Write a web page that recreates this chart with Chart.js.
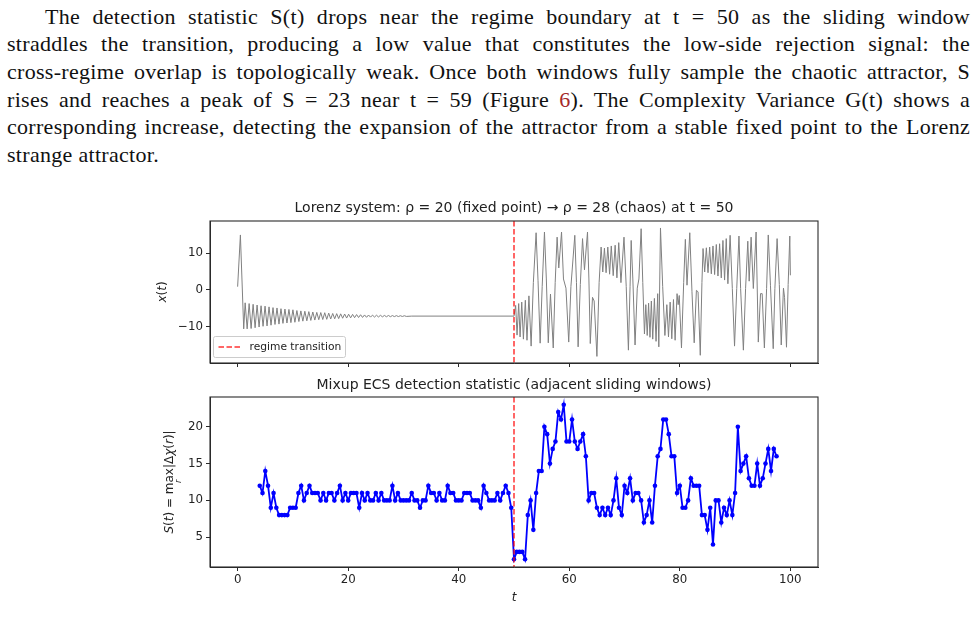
<!DOCTYPE html>
<html>
<head>
<meta charset="utf-8">
<script src="https://cdn.jsdelivr.net/npm/chart.js@4.4.1/dist/chart.umd.min.js"></script>
<style>
  body { margin: 0; background: #fff; width: 978px; height: 636px; overflow: hidden; position: relative; }
  .para { position: absolute; left: 7px; top: 2.5px; width: 963px; font-family: 'Liberation Serif', serif; font-size: 22px; letter-spacing: 0.3px; line-height: 27.7px; color: #111; }
  .para div { text-align: justify; text-align-last: justify; }
  .para .first { padding-left: 38px; }
  .para .last { text-align-last: left; }
  .ref { color: #a52a2a; }
  .plot { position: absolute; left: 140px; }
</style>
</head>
<body>
<div class="para">
  <div class="first">The detection statistic S(t) drops near the regime boundary at t = 50 as the sliding window</div>
  <div>straddles the transition, producing a low value that constitutes the low-side rejection signal: the</div>
  <div>cross-regime overlap is topologically weak. Once both windows fully sample the chaotic attractor, S</div>
  <div>rises and reaches a peak of S = 23 near t = 59 (Figure <span class="ref">6</span>). The Complexity Variance G(t) shows a</div>
  <div>corresponding increase, detecting the expansion of the attractor from a stable fixed point to the Lorenz</div>
  <div class="last">strange attractor.</div>
</div>
<canvas id="top" class="plot" width="748" height="180" style="top:195px"></canvas>
<canvas id="bottom" class="plot" width="748" height="240" style="top:372px"></canvas>
<script>
// ---- data ----
const transitionT = 50;
const xTicks = [0, 20, 40, 60, 80, 100];
const topYTicks = [-10, 0, 10];
const bottomYTicks = [5, 10, 15, 20];

// detection statistic, one value every half time unit from t = 4
const statStart = 4;
const statStep = 0.5;
const statValues = [
  12, 11, 14, 12, 9, 11, 9, 8, 8, 8, 8, 9, 9, 9, 11, 12, 10, 11, 12, 11,
  11, 11, 10, 11, 10, 11, 11, 10, 11, 12, 10, 11, 10, 11, 11, 11, 9, 11, 10, 11,
  10, 10, 11, 10, 11, 10, 10, 10, 12, 10, 11, 10, 10, 10, 10, 11, 10, 10, 9, 10,
  10, 12, 11, 11, 10, 11, 10, 10, 12, 11, 11, 10, 10, 10, 11, 11, 11, 10, 10, 10,
  9, 12, 11, 10, 10, 10, 11, 10, 11, 12, 11, 9,
  2, 3, 3, 3, 2,
  8, 10, 6, 11, 14, 14, 20, 19, 15, 17, 18, 22, 21, 23, 18, 18, 21, 18, 17, 18,
  19, 16, 10, 11, 11, 9, 8, 9, 8, 9, 8, 10, 13, 9, 8, 12, 11, 13, 10, 11,
  11, 10, 7,
  8, 10, 7, 12, 16, 17, 21, 21, 19, 16, 16, 11, 12, 9, 9, 10, 13, 12, 12, 12,
  8, 8, 6, 9, 4, 10, 10, 7, 9, 8, 10, 8, 11, 20, 14, 15, 16, 13, 12, 12,
  15, 12, 13, 15, 17, 14, 17, 16
];

// x(t) of the Lorenz run, turning points: [t, x]
const lorenzSettle = [
  [0, 0.9], [0.5, 15.0], [1.1, -10.6],
  [1.36, -3.5], [1.72, -10.6], [2.08, -3.7], [2.44, -10.5], [2.80, -3.9], [3.16, -10.3],
  [3.52, -4.1], [3.88, -10.1], [4.24, -4.3], [4.60, -9.9], [4.96, -4.4], [5.32, -9.8],
  [5.68, -4.6], [6.04, -9.6], [6.40, -4.8], [6.76, -9.4], [7.12, -4.9], [7.48, -9.3],
  [7.84, -5.1], [8.20, -9.1], [8.56, -5.2], [8.92, -9.0], [9.28, -5.3], [9.64, -8.9],
  [10.00, -5.4], [10.36, -8.8], [10.72, -5.6], [11.08, -8.6], [11.44, -5.7], [11.80, -8.5],
  [12.16, -5.8], [12.52, -8.4], [12.88, -5.9], [13.24, -8.3], [13.60, -6.0], [13.96, -8.2],
  [14.32, -6.1], [14.68, -8.1], [15.04, -6.15], [15.40, -8.05], [15.76, -6.2], [16.12, -8.0],
  [16.48, -6.3], [16.84, -7.9], [17.20, -6.4], [17.56, -7.85], [17.92, -6.45], [18.28, -7.8],
  [18.64, -6.5], [19.00, -7.7], [19.36, -6.55], [19.72, -7.65], [20.08, -6.6], [20.44, -7.6],
  [20.80, -6.65], [21.16, -7.55], [21.52, -6.7], [21.88, -7.5], [22.24, -6.75], [22.60, -7.48],
  [22.96, -6.8], [23.32, -7.45], [23.68, -6.82], [24.04, -7.4], [24.40, -6.85], [24.76, -7.38],
  [25.12, -6.88], [25.48, -7.35], [25.84, -6.9], [26.20, -7.32], [26.56, -6.93], [26.92, -7.3],
  [27.28, -6.95], [27.64, -7.28], [28.00, -6.97], [28.36, -7.26], [28.72, -6.99], [29.08, -7.24],
  [29.44, -7.01], [29.80, -7.22], [30.16, -7.02], [30.52, -7.2], [31.5, -7.12]
];
const lorenzChaos = [
  [50.0, -7.12], [50.3, -4.2], [50.55, -12.3], [50.85, -3.7], [51.1, -12.8], [51.4, -3.3],
  [51.7, -13.4], [52.05, -2.8], [52.35, -13.7], [52.7, -1.6], [53.1, -15.3], [53.5, 2.0],
  [54.0, 15.6], [54.35, 2.5], [54.73, -14.5], [55.1, 1.0], [55.51, 15.8], [55.85, 3.0],
  [56.2, -14.4], [56.6, -1.1], [57.1, -15.8], [57.45, 2.0], [57.8, 14.4], [58.1, 6.0],
  [58.6, 15.8], [58.95, 3.0], [59.4, 0.5], [59.9, -14.2], [60.3, 1.0], [61.0, 14.9],
  [61.3, 2.0], [61.6, -15.5], [62.0, 1.5], [62.4, 14.0], [62.75, 5.5], [63.3, 15.8],
  [63.55, 3.0], [63.8, -14.6], [64.2, -2.0], [64.5, -3.0], [65.0, -18.1], [65.4, 2.0],
  [65.76, 11.7], [66.06, 4.9], [66.36, 11.4], [66.66, 4.7], [66.97, 11.7], [67.3, 4.3],
  [67.6, 12.0], [67.95, 3.9], [68.3, 12.2], [68.62, 3.3], [68.95, 12.9], [69.35, 2.0],
  [69.9, 14.4], [70.3, 1.0], [70.7, -16.4], [71.0, 1.0], [71.2, 13.5], [71.5, 3.0],
  [71.9, -15.0], [72.3, 0.5], [72.6, 3.0], [73.0, 16.7], [73.3, 2.0], [73.6, -12.0],
  [73.85, -4.0], [74.1, -12.4], [74.35, -3.6], [74.6, -12.9], [74.85, -3.0], [75.1, -13.4],
  [75.4, -2.3], [75.7, -14.0], [76.0, -1.0], [76.2, -15.5], [76.5, 16.9], [76.9, 1.0],
  [77.3, -12.4], [77.65, -4.0], [77.95, -12.8], [78.25, -3.3], [78.55, -13.3], [78.85, -2.6],
  [79.15, -13.7], [79.5, -1.0], [79.7, -4.0], [79.9, -1.5], [80.3, -15.8], [80.7, 2.0],
  [81.0, 13.8], [81.3, 1.3], [81.8, 15.6], [82.2, -0.5], [82.6, -14.4], [83.0, -0.1],
  [83.3, -0.5], [83.7, -17.8], [84.0, 2.0], [84.2, 11.3], [84.5, 4.9], [84.8, 11.5],
  [85.1, 4.7], [85.4, 11.7], [85.7, 4.4], [86.0, 12.0], [86.3, 4.2], [86.6, 12.4],
  [86.9, 3.8], [87.2, 12.6], [87.5, 3.3], [87.8, 13.5], [88.1, 2.7], [88.4, 14.0],
  [88.7, 1.7], [89.1, 14.9], [89.5, 0.4], [89.9, -15.3], [90.3, 0.4], [90.7, 14.7],
  [91.0, 0.4], [91.5, -16.4], [91.9, 0.4], [92.3, 13.3], [92.55, 2.4], [92.9, 14.4],
  [93.3, 0.4], [93.8, 15.8], [94.2, -14.2], [94.6, -1.0], [94.9, -1.0], [95.3, -15.8],
  [95.7, 0.4], [96.0, 15.0], [96.4, 1.3], [96.9, -16.0], [97.2, 0.4], [97.6, 14.0],
  [98.0, 1.5], [98.35, -15.0], [98.75, 0.5], [98.95, -2.0], [99.3, -15.6], [99.6, 1.5],
  [99.9, 14.7], [100.0, 4.0]
];
const legendLabel = 'regime transition';

// ---- helpers ----
const FONT = "'DejaVu Sans', sans-serif";
const SPINE = '#2a2a2a';

function mathWidth(ctx, parts, size) {
  let w = 0;
  for (const p of parts) {
    if (p.sub) continue;
    ctx.font = (p.it ? 'italic ' : '') + size + 'px ' + FONT;
    w += ctx.measureText(p.t).width;
  }
  return w;
}
function drawMathVertical(ctx, parts, cx, cy, size) {
  ctx.save();
  ctx.translate(cx, cy);
  ctx.rotate(-Math.PI / 2);
  ctx.fillStyle = '#222';
  ctx.textBaseline = 'middle';
  ctx.textAlign = 'left';
  let x = -mathWidth(ctx, parts, size) / 2;
  let prevStart = x, prevW = 0;
  for (const p of parts) {
    if (p.sub) {
      ctx.font = 'italic ' + (size * 0.7) + 'px ' + FONT;
      const sw = ctx.measureText(p.t).width;
      ctx.fillText(p.t, prevStart + (prevW - sw) / 2, size * 0.75);
      continue;
    }
    ctx.font = (p.it ? 'italic ' : '') + size + 'px ' + FONT;
    const w = ctx.measureText(p.t).width;
    ctx.fillText(p.t, x, 0);
    prevStart = x; prevW = w;
    x += w;
  }
  ctx.restore();
}

// frame, transition marker, legend and y label
const decorPlugin = {
  id: 'decor',
  afterDatasetsDraw(chart, args, opts) {
    const { ctx, chartArea: a, scales } = chart;
    const xp = scales.x.getPixelForValue(transitionT);
    ctx.save();
    ctx.strokeStyle = 'rgba(255,0,0,0.8)';
    ctx.lineWidth = 1.5;
    ctx.setLineDash([5.5, 2.5]);
    ctx.beginPath();
    ctx.moveTo(xp, a.top);
    ctx.lineTo(xp, a.bottom);
    ctx.stroke();
    ctx.restore();
  },
  afterDraw(chart, args, opts) {
    const { ctx, chartArea: a } = chart;
    ctx.save();
    ctx.strokeStyle = SPINE;
    ctx.lineWidth = 1.1;
    ctx.strokeRect(a.left, a.top, a.right - a.left, a.bottom - a.top);
    if (opts.legend) {
      const bx = a.left + 3.5, by = a.bottom - 26.5, bw = 132, bh = 21;
      ctx.fillStyle = 'rgba(255,255,255,0.8)';
      ctx.strokeStyle = '#cccccc';
      ctx.lineWidth = 1;
      ctx.beginPath();
      ctx.roundRect(bx, by, bw, bh, 2);
      ctx.fill();
      ctx.stroke();
      ctx.strokeStyle = 'rgba(255,0,0,0.8)';
      ctx.lineWidth = 1.5;
      ctx.setLineDash([5.5, 2.5]);
      ctx.beginPath();
      ctx.moveTo(bx + 5, by + bh / 2);
      ctx.lineTo(bx + 27, by + bh / 2);
      ctx.stroke();
      ctx.setLineDash([]);
      ctx.fillStyle = '#222';
      ctx.font = '10.7px ' + FONT;
      ctx.textBaseline = 'middle';
      ctx.fillText(legendLabel, bx + 36, by + bh / 2 + 0.5);
    }
    ctx.restore();
    if (opts.ylabel) drawMathVertical(ctx, opts.ylabel, opts.ylabelX, (a.top + a.bottom) / 2, 12);
  }
};

function baseOptions(yMin, yMax, yTicks, titleText, titlePad, xHeight, showXLabels) {
  return {
    responsive: false,
    animation: false,
    devicePixelRatio: 1,
    layout: { padding: 0 },
    plugins: {
      legend: { display: false },
      tooltip: { enabled: false },
      title: {
        display: true,
        text: titleText,
        color: '#222',
        font: { family: FONT, size: 14, weight: 'normal' },
        padding: titlePad
      }
    },
    scales: {
      x: {
        type: 'linear',
        min: -5,
        max: 105,
        afterBuildTicks: s => { s.ticks = xTicks.map(v => ({ value: v })); },
        afterFit: s => { s.height = xHeight; },
        grid: { drawOnChartArea: false, drawTicks: true, tickLength: 4, color: SPINE, lineWidth: 1 },
        border: { display: true, color: SPINE, width: 1 },
        ticks: { display: showXLabels, color: '#222', padding: 2, font: { family: FONT, size: 11.8 }, maxRotation: 0 },
        title: {
          display: showXLabels,
          text: 't',
          color: '#222',
          font: { family: FONT, size: 12, style: 'italic' },
          padding: { top: 0, bottom: 7 }
        }
      },
      y: {
        type: 'linear',
        min: yMin,
        max: yMax,
        afterBuildTicks: s => { s.ticks = yTicks.map(v => ({ value: v })); },
        afterFit: s => { s.width = 70; },
        grid: { drawOnChartArea: false, drawTicks: true, tickLength: 4, color: SPINE, lineWidth: 1 },
        border: { display: true, color: SPINE, width: 1 },
        ticks: {
          color: '#222',
          padding: 3,
          font: { family: FONT, size: 11.8 },
          callback: v => String(v).replace('-', '\u2212')
        }
      },
      // empty right-hand axis: keeps the plot box centred under the title
      yPad: {
        type: 'linear',
        position: 'right',
        display: true,
        afterFit: s => { s.width = 70; },
        grid: { display: false },
        border: { display: false },
        ticks: { display: false }
      }
    }
  };
}

// ---- top: Lorenz x(t) ----
const lorenzPoints = lorenzSettle.concat(lorenzChaos).map(p => ({ x: p[0], y: p[1] }));
const topOpts = baseOptions(-19.9, 18.8, topYTicks,
  'Lorenz system: \u03c1 = 20 (fixed point) \u2192 \u03c1 = 28 (chaos) at t = 50',
  { top: 5.2, bottom: 4.0 }, 12, false);
topOpts.plugins.decor = {
  legend: true,
  ylabelX: 23,
  ylabel: [{ t: 'x', it: true }, { t: '(' }, { t: 't', it: true }, { t: ')' }]
};
new Chart(document.getElementById('top'), {
  type: 'line',
  data: {
    datasets: [{
      data: lorenzPoints,
      borderColor: '#808080',
      borderWidth: 1,
      pointRadius: 0,
      tension: 0
    }]
  },
  options: topOpts,
  plugins: [decorPlugin]
});

// ---- bottom: detection statistic ----
const statPoints = statValues.map((v, i) => ({ x: statStart + i * statStep, y: v }));
const botOpts = baseOptions(0.95, 24.05, bottomYTicks,
  'Mixup ECS detection statistic (adjacent sliding windows)',
  { top: 5.2, bottom: 3.0 }, 45, true);
botOpts.plugins.decor = {
  legend: false,
  ylabelX: 30,
  ylabel: [
    { t: 'S', it: true }, { t: '(' }, { t: 't', it: true }, { t: ') = ' }, { t: 'max' },
    { t: 'r', sub: true }, { t: '|\u0394' }, { t: '\u03c7', it: true }, { t: '(' },
    { t: 'r', it: true }, { t: ')|' }
  ]
};
new Chart(document.getElementById('bottom'), {
  type: 'line',
  data: {
    datasets: [{
      data: statPoints,
      borderColor: '#0000ff',
      backgroundColor: '#0000ff',
      borderWidth: 1.8,
      pointRadius: 2.3,
      pointBorderWidth: 0,
      tension: 0
    }]
  },
  options: botOpts,
  plugins: [decorPlugin]
});
</script>
</body>
</html>
